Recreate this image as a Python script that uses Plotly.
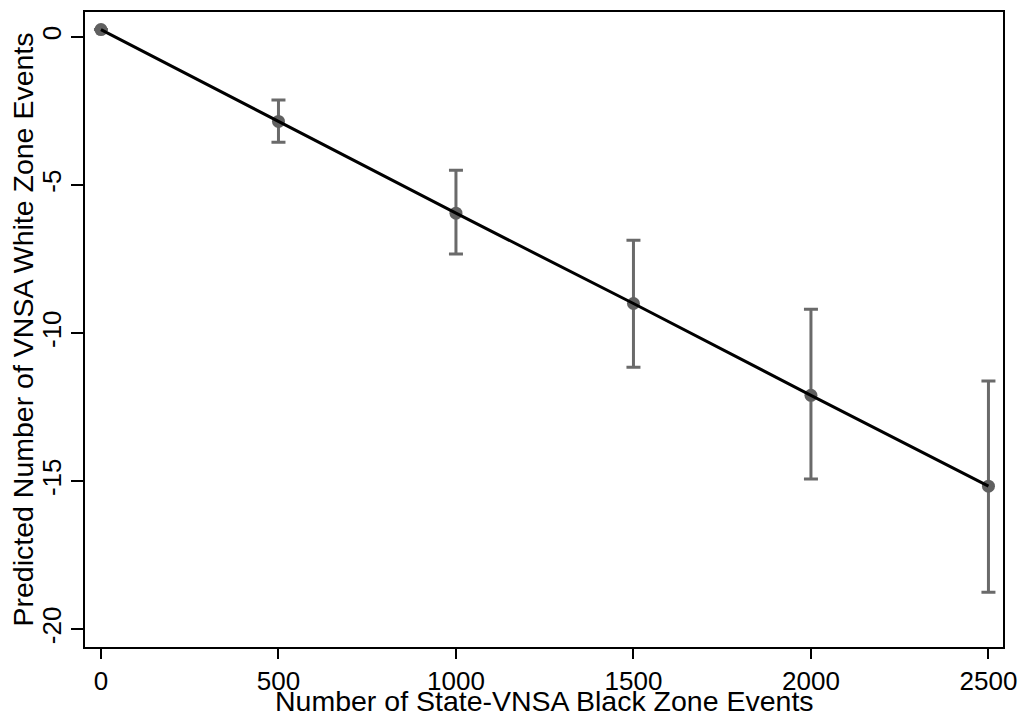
import plotly.graph_objects as go

x_vals = [0, 500, 1000, 1500, 2000, 2500]
y_vals = [0.25, -2.85, -5.95, -9.0, -12.1, -15.17]
y_upper = [0.25, -2.13, -4.5, -6.86, -9.19, -11.62]
y_lower = [0.25, -3.55, -7.33, -11.15, -14.93, -18.75]

x_ticks = [0, 500, 1000, 1500, 2000, 2500]
y_ticks = [0, -5, -10, -15, -20]
y_ticklabels = ["0", "-5", "-10", "-15", "-20"]

x_title = "Number of State-VNSA Black Zone Events"
y_title = "Predicted Number of VNSA White Zone Events"

err_plus = [u - y for u, y in zip(y_upper, y_vals)]
err_minus = [y - l for l, y in zip(y_lower, y_vals)]

fig = go.Figure()
fig.add_trace(go.Scatter(
    x=x_vals, y=y_vals, mode="markers",
    marker=dict(color="#606060", size=13),
    error_y=dict(type="data", symmetric=False, array=err_plus, arrayminus=err_minus,
                 color="#6a6a6a", thickness=3, width=7),
    showlegend=False, hoverinfo="skip"))
fig.add_trace(go.Scatter(
    x=x_vals, y=y_vals, mode="lines",
    line=dict(color="black", width=3),
    showlegend=False))

fam = "Liberation Sans, Arial, sans-serif"
tick_font = dict(family=fam, size=26, color="black")
title_font = dict(family=fam, size=28.5, color="black")
fig.update_layout(
    width=1021, height=717,
    margin=dict(l=85, r=18, t=12, b=70),
    paper_bgcolor="white", plot_bgcolor="white",
    font=tick_font,
    xaxis=dict(range=[-45, 2541], tickvals=x_ticks, ticks="outside", ticklen=10,
               tickwidth=1.5, tickcolor="black", showline=True, linecolor="black",
               linewidth=2, mirror=True, showgrid=False, zeroline=False,
               automargin=False, tickfont=tick_font),
    yaxis=dict(range=[-20.6, 0.845], tickvals=y_ticks, ticktext=y_ticklabels,
               ticks="outside", ticklen=12,
               tickwidth=1.5, tickcolor="black", showline=True, linecolor="black",
               linewidth=2, mirror=True, showgrid=False, zeroline=False,
               tickangle=-90, automargin=False, tickfont=tick_font),
    annotations=[
        dict(text=x_title, xref="paper", yref="paper", x=0.5, y=0, yshift=-54,
             xanchor="center", yanchor="middle", showarrow=False, font=title_font),
        dict(text=y_title, xref="paper", yref="paper", x=0, y=0.5, xshift=-63,
             xanchor="center", yanchor="middle", textangle=-90, showarrow=False,
             font=title_font),
    ],
)
fig.write_html("out.html", config={"displayModeBar": False},
               post_script="document.body.style.margin='0';document.body.style.overflow='hidden';")
